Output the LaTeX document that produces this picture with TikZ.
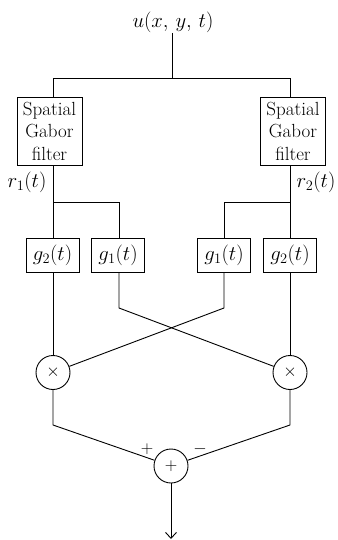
\documentclass[tikz,border=0pt]{standalone}
\usetikzlibrary{arrows.meta}
\begin{document}
\begin{tikzpicture}[x=1pt,y=-1pt,line width=0.9pt,
  txt/.style={inner sep=0pt,font=\fontsize{21}{24}\selectfont},
  bigbox/.style={draw,minimum width=65pt,minimum height=68pt,inner sep=0pt,align=center,font=\fontsize{19}{22.5}\selectfont},
  gbox/.style={draw,minimum width=53pt,minimum height=34pt,inner sep=0pt,font=\fontsize{21}{24}\selectfont},
  op/.style={draw,circle,minimum size=34pt,inner sep=0pt,font=\fontsize{18}{20}\selectfont},
  sign/.style={inner sep=0pt,font=\fontsize{17}{20}\selectfont},
  wire/.style={line width=0.9pt}]
\useasboundingbox (0,0) rectangle (337,540);
% nodes
\node[txt] (u) at (173,22) {$u(x,\,y,\,t)$};
\coordinate (top) at (172,78);
\node[bigbox] (sgL) at (49.5,131) {Spatial\\Gabor\\filter};
\node[bigbox] (sgR) at (293,131) {Spatial\\Gabor\\filter};
\node[txt] (r1) at (27,182) {$r_1(t)$};
\node[txt] (r2) at (316,182) {$r_2(t)$};
\node[gbox] (g2L) at (52.5,255) {$g_2(t)$};
\node[gbox] (g1L) at (118,255) {$g_1(t)$};
\node[gbox] (g1R) at (224,255) {$g_1(t)$};
\node[gbox] (g2R) at (290,255) {$g_2(t)$};
\node[op] (mulL) at (53,372.5) {$\times$};
\node[op] (mulR) at (290,372.5) {$\times$};
\node[op] (sum) at (171,466) {$+$};
\node[sign] (plus) at (147,449) {$+$};
\node[sign] (minus) at (200,449) {$-$};
\coordinate (splitL) at (53,202);
\coordinate (splitR) at (290,202);
\coordinate (bendL) at (119,308);
\coordinate (bendR) at (224,308);
\coordinate (lowL) at (53,425);
\coordinate (lowR) at (290,425);
\coordinate (out) at (171,539);
% connectors
\draw[wire] (u.south -| top) -- (top);
\draw[wire] (top) -| (sgL.north -| splitL);
\draw[wire] (top) -| (sgR.north -| splitR);
\draw[wire] (sgL.south -| splitL) -- (g2L.north -| splitL);
\draw[wire] (splitL) -| (g1L.north -| bendL);
\draw[wire] (sgR.south -| splitR) -- (g2R.north -| splitR);
\draw[wire] (splitR) -| (g1R.north -| bendR);
\draw[wire] (g2L.south -| splitL) -- (mulL);
\draw[wire] (g2R.south -| splitR) -- (mulR);
\draw[wire] (g1L.south -| bendL) -- (bendL) -- (mulR);
\draw[wire] (g1R.south -| bendR) -- (bendR) -- (mulL);
\draw[wire] (mulL) -- (lowL) -- (sum);
\draw[wire] (mulR) -- (lowR) -- (sum);
\draw[wire,-{Straight Barb[length=6pt,width=11pt]}] (sum) -- (out);
\end{tikzpicture}
\end{document}
